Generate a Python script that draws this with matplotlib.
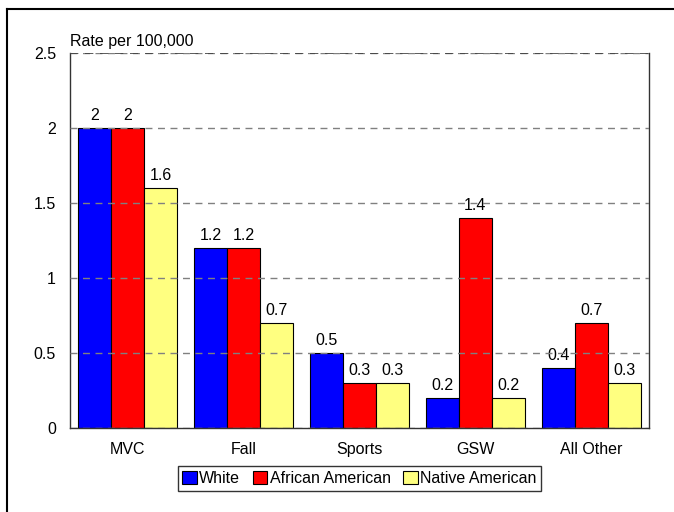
import matplotlib
matplotlib.use("Agg")
import matplotlib.pyplot as plt
import numpy as np
from matplotlib.lines import Line2D

categories = ["MVC", "Fall", "Sports", "GSW", "All Other"]
series_names = ["White", "African American", "Native American"]
white = [2, 1.2, 0.5, 0.2, 0.4]
african_american = [2, 1.2, 0.3, 1.4, 0.7]
native_american = [1.6, 0.7, 0.3, 0.2, 0.3]
colors = ["#0000FF", "#FF0000", "#FFFF80"]
yticks = [0, 0.5, 1, 1.5, 2, 2.5]

plt.rcParams['font.family'] = ['Liberation Sans', 'DejaVu Sans']
FS = 11.5

fig = plt.figure(figsize=(6.74, 5.12), dpi=100)
W, H = 674, 512
ax = fig.add_axes([70 / W, 1 - 428 / H, (649 - 70) / W, (428 - 53) / H])

x = np.arange(len(categories))
bw = 0.285
for i, (vals, c, name) in enumerate(zip([white, african_american, native_american], colors, series_names)):
    pos = x + (i - 1) * bw
    ax.bar(pos, vals, bw, color=c, edgecolor="black", linewidth=0.8, label=name, zorder=2)
    for p, v in zip(pos, vals):
        ax.annotate(f"{v:g}", (p, v), xytext=(0, 3.5), textcoords="offset points",
                    ha="center", va="bottom", fontsize=FS, zorder=1)

ax.set_xlim(-0.5, len(categories) - 0.5)
ax.set_ylim(0, 2.5)
ax.set_yticks(yticks)
ax.set_yticklabels([f"{t:g}" for t in yticks], fontsize=FS)
ax.set_xticks(x)
ax.set_xticklabels(categories, fontsize=FS)
ax.tick_params(axis="both", length=0)
ax.tick_params(axis="x", pad=10)
ax.tick_params(axis="y", pad=10)
ax.yaxis.grid(True, linestyle=(0, (5, 4)), color="#808080", linewidth=1.0, zorder=3)
ax.set_axisbelow(False)
ax.axhline(2.5, color="#404040", linestyle=(0, (5, 4)), linewidth=1.2, zorder=3)
for s in ["left", "right", "bottom"]:
    ax.spines[s].set_color("#333333")
    ax.spines[s].set_linewidth(1.0)
ax.spines["top"].set_visible(False)

ax.text(0, 1.01, "Rate per 100,000", transform=ax.transAxes, ha="left", va="bottom", fontsize=FS)

leg = ax.legend(loc="upper center", bbox_to_anchor=(0.5, -0.08), ncol=3, fontsize=FS,
                frameon=True, fancybox=False, edgecolor="black", handlelength=0.9,
                handleheight=0.85, handletextpad=0.15, columnspacing=0.8, borderpad=0.3)
leg.get_frame().set_linewidth(1.0)

# outer figure frame (left and top visible)
fig.add_artist(Line2D([7 / W, 7 / W], [0, 1 - 9 / H], transform=fig.transFigure, color="black", linewidth=1.5))
fig.add_artist(Line2D([7 / W, 1], [1 - 9 / H, 1 - 9 / H], transform=fig.transFigure, color="black", linewidth=1.5))

fig.savefig("out.png", dpi=100)
